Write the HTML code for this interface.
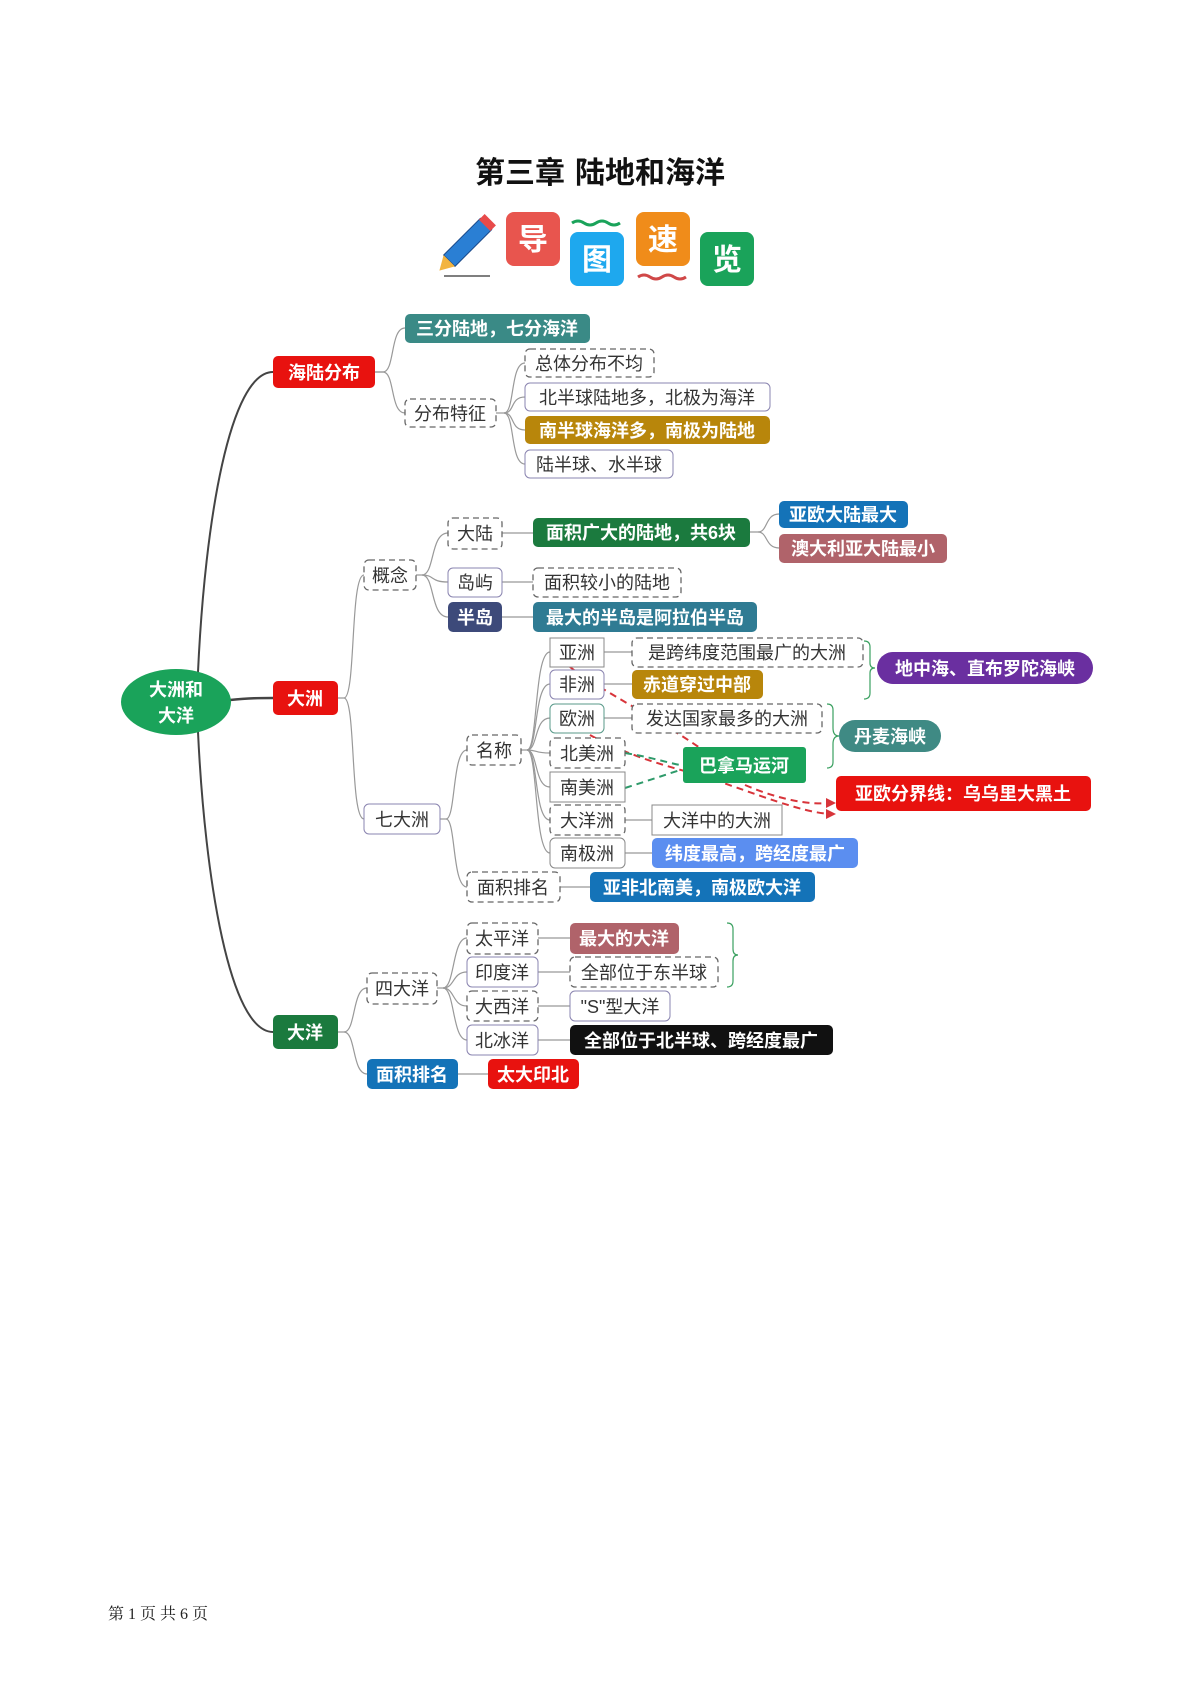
<!DOCTYPE html>
<html><head><meta charset="utf-8"><style>
body{margin:0;background:#fff;}
svg{display:block;font-family:"Liberation Sans","Noto Sans CJK SC",sans-serif;}
.w{fill:#fff;font-weight:bold;font-size:18px;}
.d{fill:#333;font-size:18px;}
.c{fill:none;stroke:#999;stroke-width:1.2;}
</style></head><body>
<svg width="1190" height="1682" viewBox="0 0 1190 1682" xmlns="http://www.w3.org/2000/svg">
<text x="520" y="183" text-anchor="middle" font-size="30" font-weight="bold" fill="#111">第三章</text>
<text x="650" y="183" text-anchor="middle" font-size="30" font-weight="bold" fill="#111">陆地和海洋</text>
<!-- icons -->
<g transform="translate(462,248) rotate(45)"><rect x="-8" y="-34" width="16" height="52" fill="#2a7fd4" stroke="#1a4a8a"/><rect x="-8" y="-40" width="16" height="8" fill="#e84a4a"/><polygon points="-8,18 8,18 0,32" fill="#f2b440"/></g>
<line x1="444" y1="276" x2="490" y2="276" stroke="#555" stroke-width="1.5"/>
<rect x="506" y="212" width="54" height="54" rx="8" fill="#e8554e"/><text x="533" y="250" text-anchor="middle" font-size="30" font-weight="bold" fill="#fff">导</text>
<path d="M572 223 q6 -4 12 0 t12 0 t12 0 t12 0" stroke="#1aa35a" stroke-width="3" fill="none"/>
<rect x="570" y="232" width="54" height="54" rx="8" fill="#1ea8ee"/><text x="597" y="270" text-anchor="middle" font-size="30" font-weight="bold" fill="#fff">图</text>
<rect x="636" y="212" width="54" height="54" rx="8" fill="#f08c1a"/><text x="663" y="250" text-anchor="middle" font-size="30" font-weight="bold" fill="#fff">速</text>
<path d="M638 277 q6 -4 12 0 t12 0 t12 0 t12 0" stroke="#d04848" stroke-width="3" fill="none"/>
<rect x="700" y="232" width="54" height="54" rx="8" fill="#1aa35a"/><text x="727" y="270" text-anchor="middle" font-size="30" font-weight="bold" fill="#fff">览</text>

<path d="M198 672 C205 520,230 372,273 372" stroke="#444" stroke-width="2" fill="none"/>
<path d="M198 732 C205 880,230 1032,273 1032" stroke="#444" stroke-width="2" fill="none"/>
<path d="M230 700 C250 698,260 698,273 698" stroke="#444" stroke-width="2.5" fill="none"/>

<g class="c">
<path d="M375 372 h8 C395 372,390 328,405 328"/><path d="M375 372 h8 C395 372,390 413,405 413"/>
<path d="M496 413 h8 C515 413,510 363,525 363"/><path d="M504 413 C515 413,510 397,525 397"/><path d="M504 413 C515 413,510 430,525 430"/><path d="M504 413 C515 413,510 464,525 464"/>
<path d="M338 698 h6 C356 698,350 575,364 575"/><path d="M344 698 C356 698,350 819,364 819"/>
<path d="M416 575 h6 C435 575,430 533,448 533"/><path d="M422 575 C435 575,430 582,448 582"/><path d="M422 575 C435 575,430 617,448 617"/>
<path d="M502 533 H533"/><path d="M502 582 H533"/><path d="M502 617 H533"/>
<path d="M750 532 h8 C768 532,765 514,779 514"/><path d="M758 532 C768 532,765 548,779 548"/>
<path d="M440 819 h6 C456 819,452 750,467 750"/><path d="M446 819 C456 819,452 887,467 887"/>
<path d="M521 750 h6 C538 750,534 652,550 652"/><path d="M527 750 C538 750,534 684,550 684"/><path d="M527 750 C538 750,534 718,550 718"/><path d="M527 750 C538 750,534 753,550 753"/><path d="M527 750 C538 750,534 787,550 787"/><path d="M527 750 C538 750,534 820,550 820"/><path d="M527 750 C538 750,534 853,550 853"/>
<path d="M604 652 H632"/><path d="M604 684 H632"/><path d="M604 718 H632"/><path d="M625 820 H652"/><path d="M625 853 H652"/><path d="M560 887 H590"/>
<path d="M338 1032 h6 C356 1032,352 988,367 988"/><path d="M344 1032 C356 1032,352 1074,367 1074"/>
<path d="M437 988 h6 C455 988,452 938,467 938"/><path d="M443 988 C455 988,452 972,467 972"/><path d="M443 988 C455 988,452 1006,467 1006"/><path d="M443 988 C455 988,452 1040,467 1040"/>
<path d="M538 938 H570"/><path d="M538 972 H570"/><path d="M538 1006 H570"/><path d="M538 1040 H570"/><path d="M458 1074 H488"/>
</g>
<path d="M864 641 q6 0 6 6 v16 q0 5 5 5 q-5 0 -5 5 v20 q0 6 -6 6" stroke="#3aa060" fill="none" stroke-width="1.2"/>
<path d="M827 704 q6 0 6 6 v18 q0 8 6 8 q-6 0 -6 8 v18 q0 6 -6 6" stroke="#3aa060" fill="none" stroke-width="1.2"/>
<path d="M727 923 q6 0 6 6 v20 q0 6 5 6 q-5 0 -5 6 v20 q0 6 -6 6" stroke="#3aa060" fill="none" stroke-width="1.2"/>

<g fill="none" stroke-width="2" stroke-dasharray="7,5">
<path d="M570 667 C600 690,660 720,700 748" stroke="#d8343a"/>
<path d="M745 785 C780 800,810 805,830 803" stroke="#d8343a"/>
<path d="M590 735 C620 752,660 765,700 775 C760 795,800 812,830 814" stroke="#d8343a"/>
<path d="M625 753 C650 757,665 762,680 765" stroke="#2e9a6a"/>
<path d="M625 788 C650 780,665 775,680 770" stroke="#2e9a6a"/>
</g>
<polygon points="836,803 826,798 826,808" fill="#d8343a"/>
<polygon points="836,814 826,809 826,819" fill="#d8343a"/>

<ellipse cx="176" cy="702" rx="55" ry="33" fill="#1aa35a"/>
<text x="176" y="696" text-anchor="middle" class="w">大洲和</text><text x="176" y="722" text-anchor="middle" class="w">大洋</text>

<g>
<rect x="273" y="356" width="102" height="32" rx="5" fill="#e8120f"/><text x="324" y="379" text-anchor="middle" class="w">海陆分布</text>
<rect x="405" y="314" width="185" height="29" rx="5" fill="#3a8a86"/><text x="497" y="335" text-anchor="middle" class="w">三分陆地，七分海洋</text>
<rect x="405" y="399" width="91" height="28" rx="5" fill="#fff" stroke="#666" stroke-width="1.3" stroke-dasharray="6,4"/><text x="450" y="420" text-anchor="middle" class="d">分布特征</text>
<rect x="525" y="349" width="129" height="28" rx="5" fill="#fff" stroke="#666" stroke-width="1.3" stroke-dasharray="6,4"/><text x="589" y="370" text-anchor="middle" class="d">总体分布不均</text>
<rect x="525" y="383" width="245" height="28" rx="5" fill="#fff" stroke="#8a84b0"/><text x="647" y="404" text-anchor="middle" class="d">北半球陆地多，北极为海洋</text>
<rect x="525" y="416" width="245" height="28" rx="5" fill="#b8860b"/><text x="647" y="437" text-anchor="middle" class="w">南半球海洋多，南极为陆地</text>
<rect x="525" y="450" width="148" height="28" rx="5" fill="#fff" stroke="#8a84b0"/><text x="599" y="471" text-anchor="middle" class="d">陆半球、水半球</text>

<rect x="273" y="681" width="65" height="34" rx="5" fill="#e8120f"/><text x="305" y="705" text-anchor="middle" class="w">大洲</text>
<rect x="364" y="560" width="52" height="30" rx="5" fill="#fff" stroke="#666" stroke-width="1.3" stroke-dasharray="6,4"/><text x="390" y="582" text-anchor="middle" class="d">概念</text>
<rect x="448" y="518" width="54" height="31" rx="5" fill="#fff" stroke="#666" stroke-width="1.3" stroke-dasharray="6,4"/><text x="475" y="540" text-anchor="middle" class="d">大陆</text>
<rect x="533" y="518" width="217" height="29" rx="5" fill="#1b7a3e"/><text x="641" y="539" text-anchor="middle" class="w">面积广大的陆地，共6块</text>
<rect x="779" y="501" width="129" height="27" rx="5" fill="#1473b8"/><text x="843" y="521" text-anchor="middle" class="w">亚欧大陆最大</text>
<rect x="779" y="534" width="168" height="29" rx="5" fill="#b0636a"/><text x="863" y="555" text-anchor="middle" class="w">澳大利亚大陆最小</text>
<rect x="448" y="568" width="54" height="29" rx="5" fill="#fff" stroke="#8a84b0"/><text x="475" y="589" text-anchor="middle" class="d">岛屿</text>
<rect x="533" y="568" width="148" height="29" rx="5" fill="#fff" stroke="#666" stroke-width="1.3" stroke-dasharray="6,4"/><text x="607" y="589" text-anchor="middle" class="d">面积较小的陆地</text>
<rect x="448" y="602" width="54" height="30" rx="5" fill="#3d4a7a"/><text x="475" y="624" text-anchor="middle" class="w">半岛</text>
<rect x="533" y="602" width="224" height="30" rx="5" fill="#2f7b93"/><text x="645" y="624" text-anchor="middle" class="w">最大的半岛是阿拉伯半岛</text>

<rect x="364" y="804" width="76" height="30" rx="5" fill="#fff" stroke="#8a84b0"/><text x="402" y="826" text-anchor="middle" class="d">七大洲</text>
<rect x="467" y="735" width="54" height="30" rx="5" fill="#fff" stroke="#666" stroke-width="1.3" stroke-dasharray="6,4"/><text x="494" y="757" text-anchor="middle" class="d">名称</text>
<rect x="550" y="638" width="54" height="29" fill="#fff" stroke="#888"/><text x="577" y="659" text-anchor="middle" class="d">亚洲</text>
<rect x="632" y="638" width="231" height="29" rx="5" fill="#fff" stroke="#666" stroke-width="1.3" stroke-dasharray="6,4"/><text x="747" y="659" text-anchor="middle" class="d">是跨纬度范围最广的大洲</text>
<rect x="550" y="670" width="54" height="29" rx="5" fill="#fff" stroke="#8a84b0"/><text x="577" y="691" text-anchor="middle" class="d">非洲</text>
<rect x="632" y="670" width="131" height="29" rx="5" fill="#b8860b"/><text x="697" y="691" text-anchor="middle" class="w">赤道穿过中部</text>
<rect x="550" y="704" width="54" height="29" rx="5" fill="#fff" stroke="#5a9a8a"/><text x="577" y="725" text-anchor="middle" class="d">欧洲</text>
<rect x="632" y="704" width="190" height="29" rx="5" fill="#fff" stroke="#666" stroke-width="1.3" stroke-dasharray="6,4"/><text x="727" y="725" text-anchor="middle" class="d">发达国家最多的大洲</text>
<rect x="550" y="738" width="75" height="30" rx="5" fill="#fff" stroke="#666" stroke-width="1.3" stroke-dasharray="6,4"/><text x="587" y="760" text-anchor="middle" class="d">北美洲</text>
<rect x="550" y="772" width="75" height="30" fill="#fff" stroke="#888"/><text x="587" y="794" text-anchor="middle" class="d">南美洲</text>
<rect x="550" y="805" width="75" height="30" rx="5" fill="#fff" stroke="#666" stroke-width="1.3" stroke-dasharray="6,4"/><text x="587" y="827" text-anchor="middle" class="d">大洋洲</text>
<rect x="652" y="805" width="130" height="30" fill="#fff" stroke="#888"/><text x="717" y="827" text-anchor="middle" class="d">大洋中的大洲</text>
<rect x="550" y="838" width="75" height="30" rx="5" fill="#fff" stroke="#888"/><text x="587" y="860" text-anchor="middle" class="d">南极洲</text>
<rect x="652" y="838" width="206" height="30" rx="5" fill="#5b8ef0"/><text x="755" y="860" text-anchor="middle" class="w">纬度最高，跨经度最广</text>
<rect x="467" y="872" width="93" height="30" rx="5" fill="#fff" stroke="#666" stroke-width="1.3" stroke-dasharray="6,4"/><text x="513" y="894" text-anchor="middle" class="d">面积排名</text>
<rect x="590" y="872" width="225" height="30" rx="5" fill="#1473b8"/><text x="702" y="894" text-anchor="middle" class="w">亚非北南美，南极欧大洋</text>
<rect x="877" y="652" width="216" height="32" rx="16" fill="#6a2fa0"/><text x="985" y="675" text-anchor="middle" class="w">地中海、直布罗陀海峡</text>
<rect x="839" y="720" width="102" height="32" rx="16" fill="#3f8a84"/><text x="890" y="743" text-anchor="middle" class="w">丹麦海峡</text>
<rect x="683" y="747" width="123" height="36" rx="3" fill="#1aa35a"/><text x="744" y="772" text-anchor="middle" class="w">巴拿马运河</text>
<rect x="836" y="776" width="255" height="35" rx="5" fill="#e8120f"/><text x="963" y="800" text-anchor="middle" class="w">亚欧分界线：乌乌里大黑土</text>

<rect x="273" y="1015" width="65" height="34" rx="5" fill="#1b7a3e"/><text x="305" y="1039" text-anchor="middle" class="w">大洋</text>
<rect x="367" y="973" width="70" height="31" rx="5" fill="#fff" stroke="#666" stroke-width="1.3" stroke-dasharray="6,4"/><text x="402" y="995" text-anchor="middle" class="d">四大洋</text>
<rect x="467" y="923" width="71" height="31" rx="5" fill="#fff" stroke="#666" stroke-width="1.3" stroke-dasharray="6,4"/><text x="502" y="945" text-anchor="middle" class="d">太平洋</text>
<rect x="570" y="923" width="109" height="31" rx="5" fill="#b0636a"/><text x="624" y="945" text-anchor="middle" class="w">最大的大洋</text>
<rect x="467" y="957" width="71" height="30" rx="5" fill="#fff" stroke="#8a84b0"/><text x="502" y="979" text-anchor="middle" class="d">印度洋</text>
<rect x="570" y="957" width="148" height="30" rx="5" fill="#fff" stroke="#666" stroke-width="1.3" stroke-dasharray="6,4"/><text x="644" y="979" text-anchor="middle" class="d">全部位于东半球</text>
<rect x="467" y="991" width="71" height="30" rx="5" fill="#fff" stroke="#666" stroke-width="1.3" stroke-dasharray="6,4"/><text x="502" y="1013" text-anchor="middle" class="d">大西洋</text>
<rect x="570" y="991" width="100" height="30" rx="5" fill="#fff" stroke="#8a84b0"/><text x="620" y="1013" text-anchor="middle" class="d">"S"型大洋</text>
<rect x="467" y="1025" width="71" height="30" rx="5" fill="#fff" stroke="#8a84b0"/><text x="502" y="1047" text-anchor="middle" class="d">北冰洋</text>
<rect x="570" y="1025" width="263" height="30" rx="5" fill="#111"/><text x="701" y="1047" text-anchor="middle" class="w">全部位于北半球、跨经度最广</text>
<rect x="367" y="1059" width="91" height="30" rx="5" fill="#1473b8"/><text x="412" y="1081" text-anchor="middle" class="w">面积排名</text>
<rect x="488" y="1059" width="91" height="30" rx="5" fill="#e8120f"/><text x="533" y="1081" text-anchor="middle" class="w">太大印北</text>
</g>

<text x="108" y="1619" font-size="16" fill="#222" font-family="'Liberation Serif','Noto Serif CJK SC',serif">第 1 页 共 6 页</text>
</svg>
</body></html>
